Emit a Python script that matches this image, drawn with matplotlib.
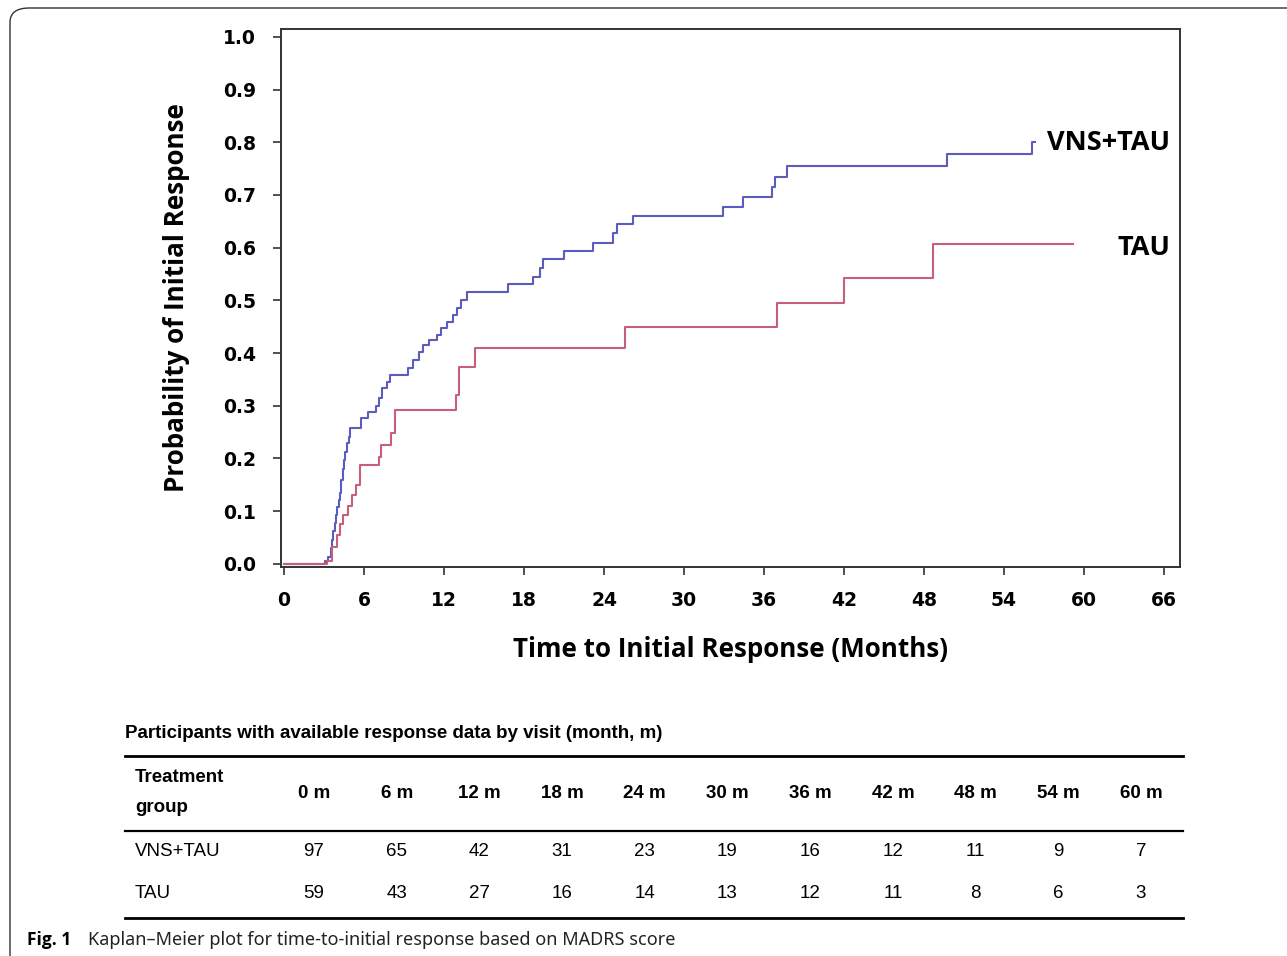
import matplotlib
matplotlib.use("Agg")
import matplotlib.pyplot as plt
from matplotlib.lines import Line2D
from matplotlib.patches import FancyBboxPatch

# Kaplan-Meier step data (time in months, cumulative probability)
vns_time = [0, 3.1, 3.3, 3.5, 3.6, 3.7, 3.8, 3.9, 4.0, 4.1, 4.2, 4.3, 4.4, 4.5, 4.6,
            4.75, 4.85, 4.95, 5.75, 6.3, 6.9, 7.1, 7.35, 7.7, 7.95, 9.3, 9.7, 10.1,
            10.4, 10.9, 11.5, 11.8, 12.2, 12.7, 13.0, 13.3, 13.7, 16.8, 18.7, 19.2,
            19.4, 21.0, 23.2, 24.7, 25.0, 26.2, 32.9, 34.4, 36.6, 36.8, 37.7, 49.7,
            56.1, 56.3]
vns_prob = [0.0, 0.005, 0.013, 0.03, 0.046, 0.062, 0.078, 0.093, 0.108, 0.122, 0.135,
            0.16, 0.18, 0.197, 0.213, 0.23, 0.241, 0.257, 0.277, 0.289, 0.30, 0.315,
            0.334, 0.346, 0.359, 0.372, 0.387, 0.402, 0.415, 0.425, 0.435, 0.448,
            0.459, 0.472, 0.486, 0.501, 0.516, 0.531, 0.545, 0.562, 0.579, 0.594,
            0.609, 0.628, 0.645, 0.66, 0.677, 0.697, 0.715, 0.734, 0.755, 0.778,
            0.80, 0.80]

tau_time = [0, 3.2, 3.6, 4.0, 4.2, 4.4, 4.8, 5.1, 5.4, 5.7, 7.1, 7.3, 8.0, 8.3, 12.9,
            13.1, 14.3, 25.6, 37.0, 42.0, 48.7, 59.2]
tau_prob = [0.0, 0.005, 0.032, 0.055, 0.075, 0.093, 0.11, 0.13, 0.15, 0.188, 0.203,
            0.226, 0.249, 0.292, 0.32, 0.374, 0.41, 0.45, 0.495, 0.543, 0.607, 0.607]

x_ticks = list(range(0, 67, 6))
y_ticks = [0.0, 0.1, 0.2, 0.3, 0.4, 0.5, 0.6, 0.7, 0.8, 0.9, 1.0]

# Numbers at risk table
visits = ["0 m", "6 m", "12 m", "18 m", "24 m", "30 m", "36 m", "42 m", "48 m", "54 m", "60 m"]
vns_at_risk = [97, 65, 42, 31, 23, 19, 16, 12, 11, 9, 7]
tau_at_risk = [59, 43, 27, 16, 14, 13, 12, 11, 8, 6, 3]

W, H = 1287, 956


def fx(px):
    return px / W


def fy(py):
    return 1 - py / H


fig = plt.figure(figsize=(W / 100, H / 100), dpi=100)

# Rounded frame around the figure panel (open to the right and bottom)
frame = FancyBboxPatch((fx(10), fy(1000)), fx(1400), fy(8) - fy(1000),
                       boxstyle="round,pad=0,rounding_size=0.015",
                       transform=fig.transFigure, fill=False,
                       edgecolor="#333333", linewidth=1.0)
fig.add_artist(frame)

ax = fig.add_axes([fx(281), fy(567), fx(1180) - fx(281), fy(29) - fy(567)])

ax.step(vns_time, vns_prob, where="post", color="#5b5cc0", linewidth=1.5)
ax.step(tau_time, tau_prob, where="post", color="#c75f78", linewidth=1.5)

ax.set_xlim(-0.23, 67.2)
ax.set_ylim(-0.006, 1.015)
ax.set_xticks(x_ticks)
ax.set_yticks(y_ticks)
ax.set_yticklabels([f"{v:.1f}" for v in y_ticks])
ax.tick_params(axis="both", direction="out", length=6, width=1.2, color="#333333",
               labelsize=13.5)
ax.tick_params(axis="y", pad=12)
ax.tick_params(axis="x", pad=11)
for lab in ax.get_xticklabels() + ax.get_yticklabels():
    lab.set_fontweight("bold")
for sp in ax.spines.values():
    sp.set_color("#333333")
    sp.set_linewidth(1.4)

label_font = ["Open Sans", "DejaVu Sans"]
ax.set_xlabel("Time to Initial Response (Months)", fontsize=18.7, fontweight="bold",
              family=label_font, labelpad=19)
ax.set_ylabel("Probability of Initial Response", fontsize=18.7, fontweight="bold",
              family=label_font, labelpad=24)

ax.text(66.45, 0.799, "VNS+TAU", ha="right", va="center", fontsize=19.5,
        fontweight="bold", family=label_font)
ax.text(66.45, 0.60, "TAU", ha="right", va="center", fontsize=19.5,
        fontweight="bold", family=label_font)

# Table of participants by visit
tab_font = ["Liberation Sans Narrow", "Liberation Sans", "DejaVu Sans"]
fig.text(fx(125), fy(733), "Participants with available response data by visit (month, m)",
         ha="left", va="center", fontsize=13.5, fontweight="bold", family=tab_font)

for py, lw in [(756, 2.0), (831, 1.6), (918, 2.0)]:
    fig.add_artist(Line2D([fx(125), fx(1183)], [fy(py), fy(py)],
                          transform=fig.transFigure, color="black", linewidth=lw))

fig.text(fx(135), fy(778), "Treatment", ha="left", va="center", fontsize=13.5,
         fontweight="bold", family=tab_font)
fig.text(fx(135), fy(808), "group", ha="left", va="center", fontsize=13.5,
         fontweight="bold", family=tab_font)

col_x0, col_dx = 314, 82.7
for i, v in enumerate(visits):
    cx = fx(col_x0 + i * col_dx)
    fig.text(cx, fy(793), v, ha="center", va="center", fontsize=13.5,
             fontweight="bold", family=tab_font)
    fig.text(cx, fy(852), str(vns_at_risk[i]), ha="center", va="center",
             fontsize=13.5, family=tab_font)
    fig.text(cx, fy(894), str(tau_at_risk[i]), ha="center", va="center",
             fontsize=13.5, family=tab_font)

fig.text(fx(135), fy(852), "VNS+TAU", ha="left", va="center", fontsize=13.5,
         family=tab_font)
fig.text(fx(135), fy(894), "TAU", ha="left", va="center", fontsize=13.5,
         family=tab_font)

# Caption
cap_font = ["Open Sans", "DejaVu Sans"]
fig.text(fx(27), fy(940), "Fig. 1", ha="left", va="center", fontsize=12.5,
         fontweight="bold", family=cap_font)
fig.text(fx(88), fy(940), "Kaplan\u2013Meier plot for time-to-initial response based on MADRS score",
         ha="left", va="center", fontsize=13, family=["Noto Sans", "DejaVu Sans"],
         color="#222222")

fig.savefig("out.png", dpi=100)
